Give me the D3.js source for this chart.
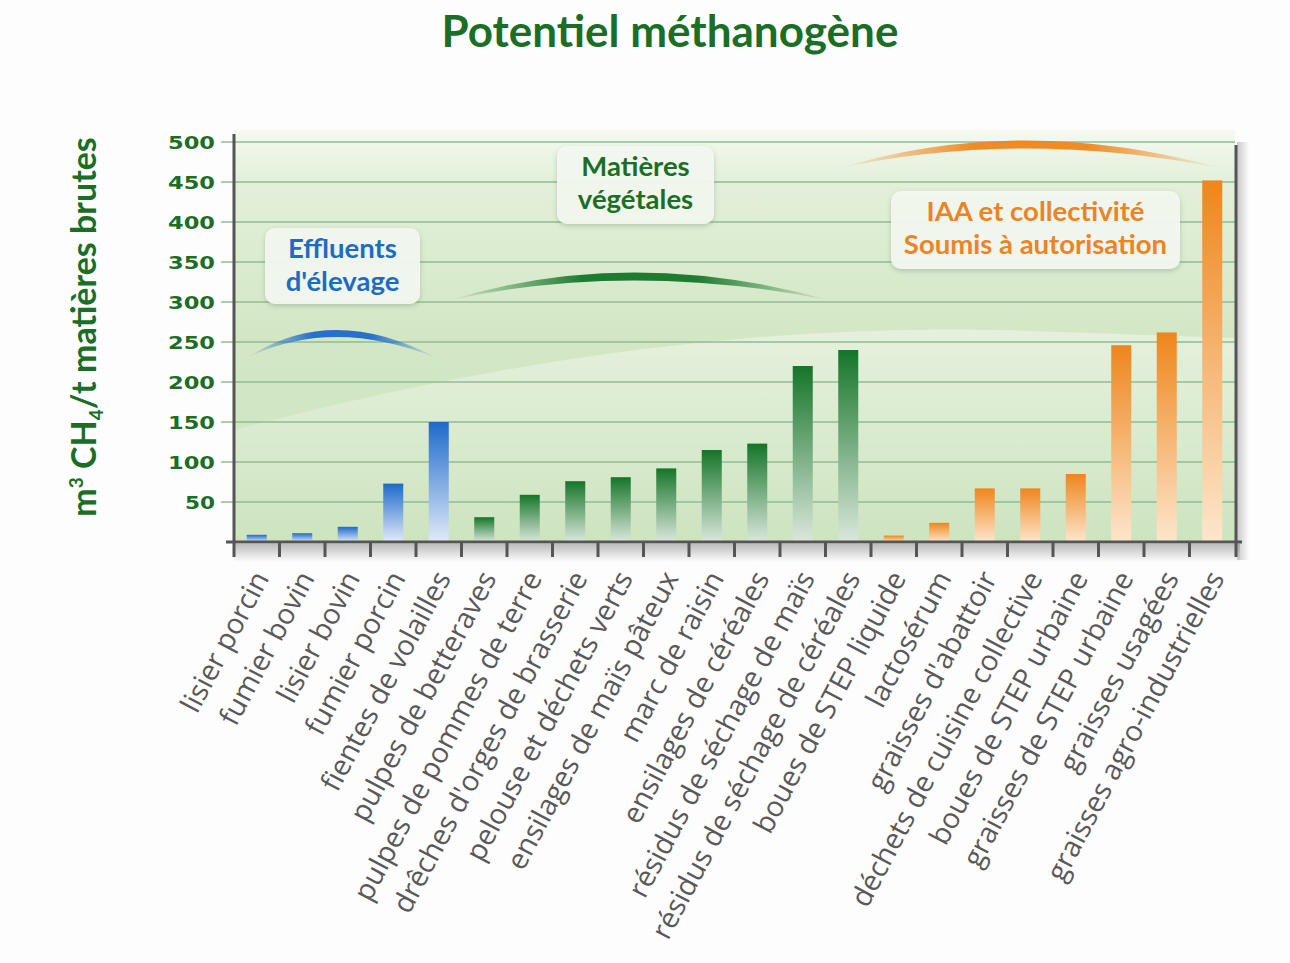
<!DOCTYPE html>
<html>
<head>
<meta charset="utf-8">
<script src="https://cdn.jsdelivr.net/npm/d3@7"></script>
<style>
  body { margin: 0; background: #fdfdfd; }
  svg { display: block; }
</style>
</head>
<body>
<svg width="1290" height="963"></svg>
<script>
var categories = [
  "lisier porcin", "fumier bovin", "lisier bovin", "fumier porcin", "fientes de volailles",
  "pulpes de betteraves", "pulpes de pommes de terre", "drêches d'orges de brasserie",
  "pelouse et déchets verts", "ensilages de maïs pâteux", "marc de raisin",
  "ensilages de céréales", "résidus de séchage de maïs", "résidus de séchage de céréales",
  "boues de STEP liquide", "lactosérum", "graisses d'abattoir", "déchets de cuisine collective",
  "boues de STEP urbaine", "graisses de STEP urbaine", "graisses usagées", "graisses agro-industrielles"
];
var values = [9, 11, 19, 73, 150, 31, 59, 76, 81, 92, 115, 123, 220, 240, 8, 24, 67, 67, 85, 246, 262, 452];
var groups = ["e","e","e","e","e","v","v","v","v","v","v","v","v","v","i","i","i","i","i","i","i","i"];
var yTicks = [50, 100, 150, 200, 250, 300, 350, 400, 450, 500];

var svg = d3.select("svg"),
    width = +svg.attr("width"),
    height = +svg.attr("height");

var green = "#1b6e25";
var colors = {
  e: ["#1d6acb", "#e2eaf8"],
  v: ["#157529", "#dbe7dc"],
  i: ["#ee861c", "#fde6cc"]
};

var x = d3.scaleBand().domain(categories).range([234, 1235]).paddingInner(0.56).paddingOuter(0.28);
var y = d3.scaleLinear().domain([0, 500]).range([542, 142]);
var step = x.step();

var defs = svg.append("defs");

// background gradient of the plot
var bg = defs.append("linearGradient").attr("id", "bg").attr("x1", 0).attr("x2", 0).attr("y1", 0).attr("y2", 1);
bg.append("stop").attr("offset", "0").attr("stop-color", "#f5f9f1");
bg.append("stop").attr("offset", "0.12").attr("stop-color", "#e3f0da");
bg.append("stop").attr("offset", "0.5").attr("stop-color", "#d3e7c5");
bg.append("stop").attr("offset", "1").attr("stop-color", "#cde4bf");

var sw = defs.append("linearGradient").attr("id", "swoosh").attr("x1", 0).attr("x2", 0).attr("y1", 0).attr("y2", 1);
sw.append("stop").attr("offset", "0").attr("stop-color", "#fff").attr("stop-opacity", 0.4);
sw.append("stop").attr("offset", "1").attr("stop-color", "#fff").attr("stop-opacity", 0);

Object.keys(colors).forEach(function(k) {
  var g = defs.append("linearGradient").attr("id", "bar-" + k).attr("x1", 0).attr("x2", 0).attr("y1", 0).attr("y2", 1);
  g.append("stop").attr("offset", "0").attr("stop-color", colors[k][0]);
  g.append("stop").attr("offset", "1").attr("stop-color", colors[k][1]);
  var a = defs.append("linearGradient").attr("id", "arc-" + k);
  a.append("stop").attr("offset", "0").attr("stop-color", colors[k][0]).attr("stop-opacity", 0);
  a.append("stop").attr("offset", "0.35").attr("stop-color", colors[k][0]).attr("stop-opacity", 0.95);
  a.append("stop").attr("offset", "0.65").attr("stop-color", colors[k][0]).attr("stop-opacity", 0.95);
  a.append("stop").attr("offset", "1").attr("stop-color", colors[k][0]).attr("stop-opacity", 0);
});

var shB = defs.append("linearGradient").attr("id", "shadowB").attr("x1", 0).attr("x2", 0).attr("y1", 0).attr("y2", 1);
shB.append("stop").attr("offset", "0").attr("stop-color", "#888").attr("stop-opacity", 0.55);
shB.append("stop").attr("offset", "1").attr("stop-color", "#888").attr("stop-opacity", 0);
var shR = defs.append("linearGradient").attr("id", "shadowR");
shR.append("stop").attr("offset", "0").attr("stop-color", "#888").attr("stop-opacity", 0.45);
shR.append("stop").attr("offset", "1").attr("stop-color", "#888").attr("stop-opacity", 0);

defs.append("filter").attr("id", "soft").attr("x", "-20%").attr("y", "-20%").attr("width", "140%").attr("height", "150%")
  .append("feDropShadow").attr("dx", 0).attr("dy", 2).attr("stdDeviation", 2.5)
  .attr("flood-color", "#5a7a50").attr("flood-opacity", 0.35);

// plot background
svg.append("rect").attr("x", 234).attr("y", 130).attr("width", 1001).attr("height", 412).attr("fill", "url(#bg)");

// light swoosh across the plot
svg.append("path")
  .attr("d", "M234," + y(140) + " Q640," + y(275) + " 1000," + y(265) + " L1235," + y(255) + " L1235,542 L234,542 Z")
  .attr("fill", "url(#swoosh)");

// shadows
svg.append("rect").attr("x", 234).attr("y", 544).attr("width", 1006).attr("height", 18).attr("fill", "url(#shadowB)");
svg.append("rect").attr("x", 1237).attr("y", 142).attr("width", 12).attr("height", 418).attr("fill", "url(#shadowR)");

// gridlines + small ticks left of the axis
svg.append("g").selectAll("line").data(yTicks).enter().append("line")
  .attr("x1", 221).attr("x2", 1235)
  .attr("y1", function(d) { return y(d); }).attr("y2", function(d) { return y(d); })
  .attr("stroke", "#8fbd95").attr("stroke-width", 1.3);

// decorative arcs over each family
var arcs = [
  { g: "e", x0: x(categories[0]), x1: x(categories[4]) + x.bandwidth() - 12, v0: 230, v1: 265, t: 7 },
  { g: "v", x0: x(categories[4]) + x.bandwidth(), x1: x(categories[13]) - 8, v0: 302, v1: 337, t: 8 },
  { g: "i", x0: x(categories[13]), x1: x(categories[21]) + x.bandwidth(), v0: 467, v1: 502, t: 8 }
];
svg.append("g").selectAll("path").data(arcs).enter().append("path")
  .attr("d", function(d) {
    var y0 = y(d.v0), yp = y(d.v1), cx = (d.x0 + d.x1) / 2 - 10;
    var c1 = 2 * yp - y0, c2 = 2 * (yp + d.t) - y0;
    return "M" + d.x0 + "," + y0 + " Q" + cx + "," + c1 + " " + d.x1 + "," + y0 +
           " Q" + cx + "," + c2 + " " + d.x0 + "," + y0 + "Z";
  })
  .attr("fill", function(d) { return "url(#arc-" + d.g + ")"; });

// callout boxes
var callouts = [
  { lines: ["Effluents", "d'élevage"], color: "#1c6cc4", x: 265, y: 228, w: 155, h: 76 },
  { lines: ["Matières", "végétales"], color: green, x: 557, y: 146, w: 157, h: 78 },
  { lines: ["IAA et collectivité", "Soumis à autorisation"], color: "#ea8424", x: 891, y: 191, w: 289, h: 78 }
];
var co = svg.append("g").selectAll("g").data(callouts).enter().append("g");
co.append("rect")
  .attr("x", function(d) { return d.x; }).attr("y", function(d) { return d.y; })
  .attr("width", function(d) { return d.w; }).attr("height", function(d) { return d.h; })
  .attr("rx", 10).attr("fill", "#f4f8f1").attr("fill-opacity", 0.92).attr("filter", "url(#soft)");
co.each(function(d) {
  var g = d3.select(this);
  d.lines.forEach(function(t, i) {
    g.append("text")
      .attr("x", d.x + d.w / 2).attr("y", d.y + 30 + i * 33)
      .attr("text-anchor", "middle")
      .attr("font-family", "Lato, 'Open Sans', sans-serif").attr("font-weight", "bold")
      .attr("font-size", 27.5).attr("fill", d.color)
      .text(t);
  });
});

// bars
svg.append("g").selectAll("rect").data(values).enter().append("rect")
  .attr("x", function(d, i) { return x(categories[i]); })
  .attr("y", function(d) { return y(d); })
  .attr("width", x.bandwidth())
  .attr("height", function(d) { return y(0) - y(d); })
  .attr("fill", function(d, i) { return "url(#bar-" + groups[i] + ")"; });

// axes
svg.append("line").attr("x1", 234).attr("x2", 234).attr("y1", 134).attr("y2", 557)
  .attr("stroke", "#555").attr("stroke-width", 3);
svg.append("line").attr("x1", 1236).attr("x2", 1236).attr("y1", 145).attr("y2", 557)
  .attr("stroke", "#555").attr("stroke-width", 3);
svg.append("line").attr("x1", 226).attr("x2", 1242).attr("y1", 542).attr("y2", 542)
  .attr("stroke", "#555").attr("stroke-width", 3);
svg.append("g").selectAll("line").data(d3.range(1, categories.length)).enter().append("line")
  .attr("x1", function(i) { return 234 + i * step; }).attr("x2", function(i) { return 234 + i * step; })
  .attr("y1", 542).attr("y2", 557)
  .attr("stroke", "#555").attr("stroke-width", 3);

// y tick labels
svg.append("g").selectAll("text").data(yTicks).enter().append("text")
  .attr("x", 215).attr("y", function(d) { return y(d) + 7; })
  .attr("text-anchor", "end")
  .attr("font-family", "'DejaVu Sans', sans-serif").attr("font-weight", "bold")
  .attr("font-size", 18).attr("fill", green)
  .attr("textLength", function(d) { return d >= 100 ? 47 : 30; })
  .attr("lengthAdjust", "spacingAndGlyphs")
  .text(function(d) { return d; });

// category labels
svg.append("g").selectAll("text").data(categories).enter().append("text")
  .attr("transform", function(d) {
    return "translate(" + (x(d) + x.bandwidth() / 2 + 13) + ",578) rotate(-62)";
  })
  .attr("text-anchor", "end")
  .attr("font-family", "'Open Sans', sans-serif")
  .attr("font-size", 28.5).attr("fill", "#595959")
  .text(function(d) { return d; });

// title
svg.append("text").attr("x", 670).attr("y", 47)
  .attr("text-anchor", "middle")
  .attr("font-family", "Lato, sans-serif").attr("font-weight", "bold")
  .attr("font-size", 44).attr("fill", green)
  .text("Potentiel méthanogène");

// y axis title
var yt = svg.append("text")
  .attr("transform", "translate(96,327) rotate(-90)")
  .attr("text-anchor", "middle")
  .attr("font-family", "Lato, sans-serif").attr("font-weight", "bold")
  .attr("font-size", 34).attr("fill", green);
yt.append("tspan").text("m");
yt.append("tspan").attr("font-size", 19).attr("dy", -13).text("3");
yt.append("tspan").attr("dy", 13).text(" CH");
yt.append("tspan").attr("font-size", 19).attr("dy", 7).text("4");
yt.append("tspan").attr("dy", -7).text("/t matières brutes");
</script>
</body>
</html>
